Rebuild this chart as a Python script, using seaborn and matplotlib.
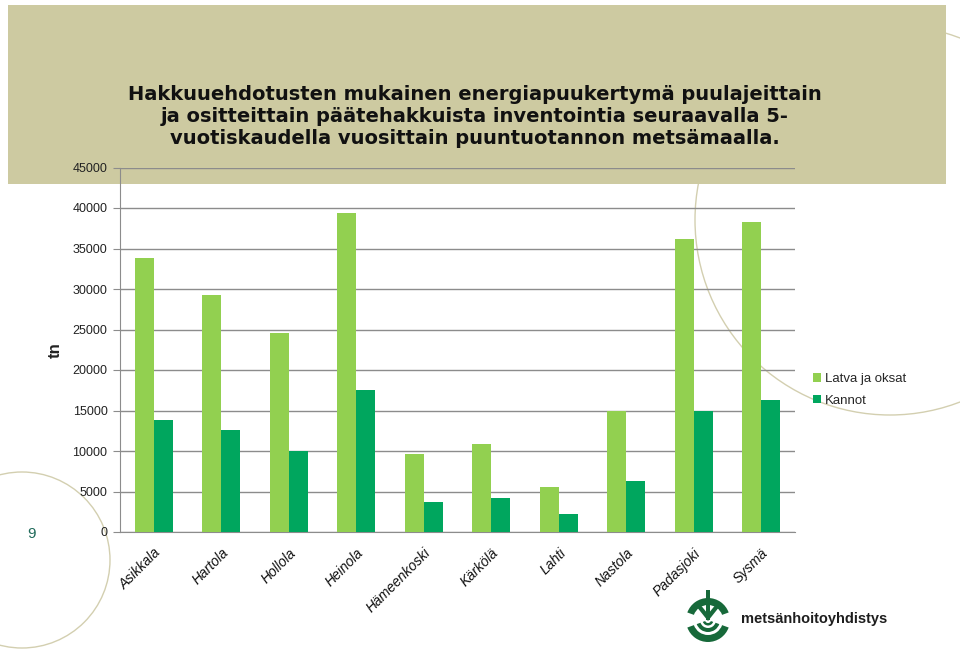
import matplotlib
matplotlib.use("Agg")
import matplotlib.pyplot as plt
import seaborn as sns
import pandas as pd
from matplotlib.patches import Rectangle, Circle, Wedge, Polygon, Patch

categories = ["Asikkala", "Hartola", "Hollola", "Heinola", "Hämeenkoski",
              "Kärkölä", "Lahti", "Nastola", "Padasjoki", "Sysmä"]
latva = [33800, 29300, 24600, 39400, 9600, 10900, 5500, 15000, 36200, 38300]
kannot = [13850, 12600, 9950, 17550, 3750, 4200, 2250, 6300, 14950, 16300]
series_names = ["Latva ja oksat", "Kannot"]
yticks = list(range(0, 45001, 5000))
title = ("Hakkuuehdotusten mukainen energiapuukertymä puulajeittain\n"
         "ja ositteittain päätehakkuista inventointia seuraavalla 5-\n"
         "vuotiskaudella vuosittain puuntuotannon metsämaalla.")

df = pd.DataFrame({
    "kunta": categories * 2,
    "tn": latva + kannot,
    "sarja": [series_names[0]] * len(categories) + [series_names[1]] * len(categories),
})

sns.set_style("white")
plt.rcParams["font.family"] = ["Liberation Sans", "DejaVu Sans"]

W, H = 960, 650
fig = plt.figure(figsize=(9.6, 6.5), dpi=100)


def fx(x):
    return x / W


def fy(y):
    return 1 - y / H


def inch(v):
    return v / 100


# banner
fig.patches.append(Rectangle((fx(8), fy(184)), fx(946) - fx(8), fy(5) - fy(184),
                             transform=fig.transFigure, facecolor="#CDCAA1",
                             edgecolor="none", zorder=-5))
# decorative circles (in inches so they stay round)
fig.patches.append(Circle((inch(890), inch(H - 220)), inch(195),
                          transform=fig.dpi_scale_trans, fill=False,
                          edgecolor="#D3CFB0", lw=1.0, zorder=-6))
fig.patches.append(Circle((inch(22), inch(H - 560)), inch(88),
                          transform=fig.dpi_scale_trans, fill=False,
                          edgecolor="#D3CFB0", lw=1.0, zorder=-6))

ax = fig.add_axes([fx(120), fy(532), fx(795) - fx(120), fy(167.5) - fy(532)])
ax.set_facecolor("none")

sns.barplot(data=df, x="kunta", y="tn", hue="sarja", order=categories,
            hue_order=series_names, palette=["#92D050", "#00A65E"],
            width=0.565, saturation=1, ax=ax, legend=False, zorder=3,
            linewidth=0, edgecolor="none")

ax.set_ylim(0, 45000)
ax.set_yticks(yticks)
ax.set_yticklabels([str(v) for v in yticks], fontsize=9, color="#222222")
ax.set_xlim(-0.5, len(categories) - 0.5)
ax.yaxis.grid(True, color="#8C8C8C", lw=1.0, zorder=0)
ax.set_axisbelow(True)
for s in ["top", "right"]:
    ax.spines[s].set_visible(False)
ax.spines["left"].set_color("#8C8C8C")
ax.spines["bottom"].set_color("#8C8C8C")
ax.tick_params(axis="y", length=5, color="#8C8C8C", direction="out", left=True, pad=4)
ax.set_xticks(range(len(categories)))
ax.set_xticklabels(categories, rotation=45, ha="right", rotation_mode="anchor",
                   fontsize=10, fontstyle="italic", color="#111111")
ax.tick_params(axis="x", length=0, pad=10)
ax.set_xticks([i - 0.5 for i in range(len(categories) + 1)], minor=True)
ax.tick_params(axis="x", which="minor", length=5, color="#8C8C8C", direction="out")
ax.set_xlabel("")
ax.set_ylabel("tn", fontsize=12, fontweight="bold", color="#222222")
ax.yaxis.set_label_coords((63 - 120) / 675, (532 - 350) / 364.5)

# title
fig.text(fx(475), fy(117), title, ha="center", va="center", fontsize=14,
         fontweight="bold", color="#111111", linespacing=1.2,
         family=["DejaVu Sans"])

# legend
handles = [Patch(facecolor="#92D050", edgecolor="none"),
           Patch(facecolor="#00A65E", edgecolor="none")]
fig.legend(handles, series_names, loc="center left",
           bbox_to_anchor=(fx(808), fy(390)), frameon=False, fontsize=9.5,
           handlelength=0.6, handleheight=0.6, handletextpad=0.3,
           labelspacing=0.75, borderaxespad=0)

# page number
fig.text(fx(31), fy(534), "9", ha="center", va="center", fontsize=11, color="#1F6A5A")

# logo
lx, ly = 708, 620
dark = "#17693A"
for r_out, r_in in [(22, 15), (12, 8), (5.5, 3)]:
    fig.patches.append(Wedge((inch(lx), inch(H - ly)), inch(r_out), 200, 340,
                             width=inch(r_out - r_in), transform=fig.dpi_scale_trans,
                             facecolor=dark, edgecolor="none"))
fig.patches.append(Wedge((inch(lx), inch(H - ly)), inch(22), 20, 160, width=inch(7),
                         transform=fig.dpi_scale_trans, facecolor=dark, edgecolor="none"))
fig.patches.append(Rectangle((inch(lx - 2), inch(H - 620)), inch(4), inch(30),
                             transform=fig.dpi_scale_trans, facecolor=dark, edgecolor="none"))
fig.patches.append(Polygon([(inch(lx - 12), inch(H - 606)), (inch(lx), inch(H - 621)),
                            (inch(lx + 12), inch(H - 606)), (inch(lx + 9), inch(H - 603)),
                            (inch(lx), inch(H - 614)), (inch(lx - 9), inch(H - 603))],
                           closed=True, transform=fig.dpi_scale_trans,
                           facecolor=dark, edgecolor="none"))
fig.text(fx(741), fy(619), "metsänhoitoyhdistys", ha="left", va="center",
         fontsize=10.5, fontweight="bold", color="#1E1E1E")

fig.savefig("out.png", dpi=100)
